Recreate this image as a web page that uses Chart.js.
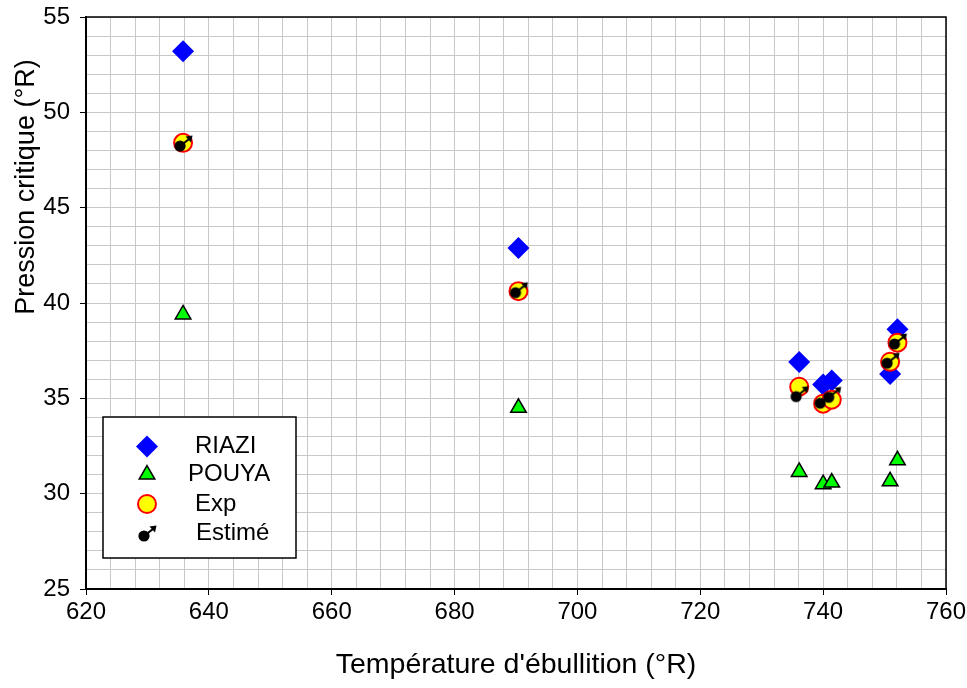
<!DOCTYPE html>
<html>
<head>
<meta charset="utf-8">
<script src="https://cdn.jsdelivr.net/npm/chart.js"></script>
<style>html,body{margin:0;padding:0;background:#fff;}canvas{display:block;}</style>
</head>
<body>
<canvas id="c" width="967" height="688"></canvas>
<script>
// ---- data ----
const seriesNames = ['RIAZI', 'POUYA', 'Exp', 'Estimé'];
const temperatures = [635.8, 690.4, 736.1, 740.0, 741.4, 752.1, 750.9];   // °R
const riazi  = [53.2, 42.88, 36.9, 35.72, 35.93, 38.62, 36.28];
const pouya  = [39.4, 34.5, 31.14, 30.5, 30.58, 31.75, 30.65];
const expVals = [48.4, 40.62, 35.61, 34.72, 34.93, 37.92, 36.92];
const estime = [48.39, 40.7, 35.25, 34.9, 35.21, 38.01, 37.0];
const xTickLabels = [620, 640, 660, 680, 700, 720, 740, 760];
const yTickLabels = [25, 30, 35, 40, 45, 50, 55];
const xTitle = "Température d'ébullition (°R)";
const yTitle = "Pression critique (°R)";

const FONT = "'Liberation Sans', Arial, Helvetica, sans-serif";

function pts(xs, ys) { return xs.map((x, i) => ({ x: x, y: ys[i] })); }

function makeEstimeIcon() {
  const c = document.createElement('canvas');
  c.width = 24; c.height = 24;
  const g = c.getContext('2d');
  g.fillStyle = '#000'; g.strokeStyle = '#000';
  g.lineWidth = 2.2;
  g.beginPath(); g.moveTo(9, 15); g.lineTo(18, 8); g.stroke();
  g.beginPath(); g.moveTo(21.5, 4.5); g.lineTo(14.5, 5.5); g.lineTo(20, 11.5); g.closePath(); g.fill();
  g.beginPath(); g.arc(9, 15, 5.6, 0, Math.PI * 2); g.fill();
  return c;
}
const estimeIcon = makeEstimeIcon();

const styles = [
  { pointStyle: 'rectRot', radius: 11, bg: '#0000ff', border: '#0000ff', bw: 0 },
  { pointStyle: 'triangle', radius: 9, bg: '#00ff00', border: '#000000', bw: 1.5 },
  { pointStyle: 'circle', radius: 9, bg: '#ffff00', border: '#ff0000', bw: 2 },
  { pointStyle: estimeIcon, radius: 12, bg: '#000', border: '#000', bw: 0 }
];
const seriesData = [riazi, pouya, expVals, estime];

const datasets = seriesNames.map((name, i) => ({
  label: name,
  data: pts(temperatures, seriesData[i]),
  pointStyle: styles[i].pointStyle,
  pointRadius: styles[i].radius,
  pointHoverRadius: styles[i].radius,
  backgroundColor: styles[i].bg,
  borderColor: styles[i].border,
  borderWidth: styles[i].bw,
  showLine: false,
  order: 4 - i
}));

const legendRows = [446.5, 474.5, 504, 533];
const legendTextX = [195, 188, 195, 196];

const decor = {
  id: 'decor',
  afterDraw(chart) {
    const ctx = chart.ctx, a = chart.chartArea;
    ctx.save();
    // top & right frame
    ctx.strokeStyle = '#000'; ctx.lineWidth = 1.5;
    ctx.beginPath();
    ctx.moveTo(a.left, a.top); ctx.lineTo(a.right, a.top); ctx.lineTo(a.right, a.bottom);
    ctx.stroke();
    // legend box
    ctx.fillStyle = '#fff';
    ctx.fillRect(103, 417, 193, 141);
    ctx.lineWidth = 1.5; ctx.strokeStyle = '#000';
    ctx.strokeRect(103, 417, 193, 141);
    seriesNames.forEach((name, i) => {
      const s = styles[i];
      ctx.fillStyle = s.bg; ctx.strokeStyle = s.border; ctx.lineWidth = s.bw;
      Chart.helpers.drawPoint(ctx, { pointStyle: s.pointStyle, radius: s.radius, rotation: 0, borderWidth: s.bw }, 147, legendRows[i]);
      ctx.fillStyle = '#000';
      ctx.font = '24px ' + FONT;
      ctx.textBaseline = 'middle'; ctx.textAlign = 'left';
      ctx.fillText(name, legendTextX[i], legendRows[i]);
    });
    // axis titles
    ctx.fillStyle = '#000';
    ctx.textAlign = 'center'; ctx.textBaseline = 'middle';
    ctx.font = '28.5px ' + FONT;
    ctx.fillText(xTitle, (a.left + a.right) / 2, 665);
    ctx.font = '27px ' + FONT;
    ctx.translate(27, 187);
    ctx.rotate(-Math.PI / 2);
    ctx.fillText(yTitle, 0, 0);
    ctx.restore();
  }
};

new Chart(document.getElementById('c'), {
  type: 'scatter',
  data: { datasets: datasets },
  options: {
    responsive: false,
    animation: false,
    events: [],
    layout: { padding: { left: 0, right: 21, top: 17, bottom: 0 } },
    plugins: { legend: { display: false }, tooltip: { enabled: false } },
    scales: {
      x: {
        type: 'linear', min: 620, max: 760,
        ticks: {
          stepSize: 4, autoSkip: false, maxRotation: 0, minRotation: 0,
          callback: v => xTickLabels.includes(v) ? String(v) : '',
          font: { family: FONT, size: 24 }, color: '#000', padding: 3
        },
        grid: {
          color: '#c8c8c8', lineWidth: 1, tickLength: 6,
          tickColor: c => (c.tick && xTickLabels.includes(c.tick.value)) ? '#000' : 'rgba(0,0,0,0)'
        },
        border: { color: '#000', width: 2 },
        afterFit: s => { s.height = 99; s.paddingLeft = 0; s.paddingRight = 0; }
      },
      y: {
        type: 'linear', min: 25, max: 55,
        ticks: {
          stepSize: 1, autoSkip: false,
          callback: v => yTickLabels.includes(v) ? String(v) : '',
          font: { family: FONT, size: 24 }, color: '#000', padding: 10
        },
        grid: {
          color: '#c8c8c8', lineWidth: 1, tickLength: 6,
          tickColor: c => (c.tick && yTickLabels.includes(c.tick.value)) ? '#000' : 'rgba(0,0,0,0)'
        },
        border: { color: '#000', width: 2 },
        afterFit: s => { s.width = 86; s.paddingTop = 0; s.paddingBottom = 0; }
      }
    }
  },
  plugins: [decor]
});
</script>
</body>
</html>
